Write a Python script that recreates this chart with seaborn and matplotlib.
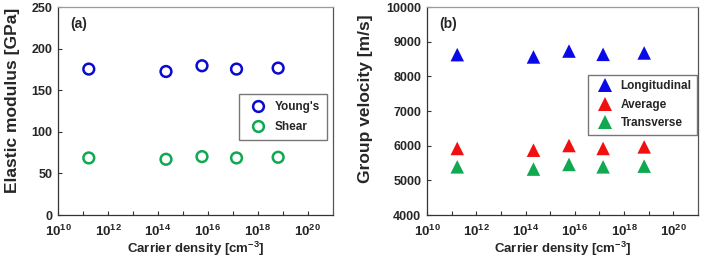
import numpy as np
import pandas as pd
import matplotlib
matplotlib.use("Agg")
import matplotlib.pyplot as plt
import matplotlib.ticker as mticker
import seaborn as sns

# carrier densities (cm^-3)
carrier = [1.7e11, 2.1e14, 5.8e15, 1.4e17, 6.5e18]

# panel (a): elastic modulus [GPa]
youngs = [175.4, 172.5, 179.4, 175.4, 176.6]
shear = [68.6, 67.0, 70.2, 68.6, 69.4]

# panel (b): group velocity [m/s]
longitudinal = [8626, 8560, 8730, 8635, 8675]
average = [5920, 5870, 6005, 5920, 5965]
transverse = [5390, 5325, 5460, 5390, 5410]

sns.set_style("ticks")
plt.rcParams['font.family'] = ['Liberation Sans', 'DejaVu Sans']
plt.rcParams['font.weight'] = 'bold'
plt.rcParams['mathtext.fontset'] = 'custom'
plt.rcParams['mathtext.rm'] = 'Liberation Sans:bold'
plt.rcParams['mathtext.it'] = 'Liberation Sans:bold'
plt.rcParams['mathtext.bf'] = 'Liberation Sans:bold'

df_a = pd.DataFrame({
    'density': carrier * 2,
    'value': youngs + shear,
    'kind': ["Young's"] * 5 + ['Shear'] * 5,
})
df_b = pd.DataFrame({
    'density': carrier * 3,
    'value': longitudinal + average + transverse,
    'kind': ['Longitudinal'] * 5 + ['Average'] * 5 + ['Transverse'] * 5,
})

fig = plt.figure(figsize=(7.08, 2.6), dpi=100)
ax1 = fig.add_axes([0.082, 0.173, 0.388, 0.80])
ax2 = fig.add_axes([0.603, 0.173, 0.383, 0.80])

blue = '#0a0ad0'
green = '#10a850'
red = '#f01010'

# (a) open circles
sns.scatterplot(data=df_a, x='density', y='value', hue='kind',
                palette={"Young's": blue, 'Shear': green},
                marker='o', s=60, linewidth=1.8, ax=ax1)
for c in ax1.collections:
    fcs = c.get_facecolors()
    c.set_edgecolors(fcs)
    c.set_facecolor('none')

# (b) filled triangles
sns.scatterplot(data=df_b, x='density', y='value', hue='kind',
                palette={'Longitudinal': '#0a0ae8', 'Average': red, 'Transverse': green},
                marker='^', s=95, linewidth=0, ax=ax2)


def fmt(v, pos):
    e = int(round(np.log10(v)))
    return r'$10^{%d}$' % e


for ax in (ax1, ax2):
    ax.set_xscale('log')
    ax.set_xlim(1e10, 1e21)
    ax.xaxis.set_major_locator(mticker.FixedLocator([10.0 ** k for k in range(10, 22, 2)]))
    ax.xaxis.set_major_formatter(mticker.FuncFormatter(fmt))
    ax.xaxis.set_minor_locator(mticker.FixedLocator([10.0 ** k for k in range(11, 21, 2)]))
    ax.xaxis.set_minor_formatter(mticker.NullFormatter())
    ax.tick_params(axis='both', which='both', direction='in', length=3, width=0.8,
                   color='#333333', labelsize=9, pad=4)
    ax.tick_params(axis='x', which='major', labelsize=9.5, pad=6)
    for s in ax.spines.values():
        s.set_color('#333333')
        s.set_linewidth(0.9)
    ax.spines['top'].set_color('#999999')
    ax.spines['right'].set_color('#555555')
    ax.set_xlabel(r'Carrier density [cm$^{-3}$]', fontsize=9.5, fontweight='bold', labelpad=1)
    for lab in ax.get_yticklabels():
        lab.set_fontweight('bold')

ax1.set_ylim(0, 250)
ax1.set_yticks(range(0, 251, 50))
ax1.set_ylabel('Elastic modulus [GPa]', fontsize=12.5, fontweight='bold')
ax1.yaxis.set_label_coords(-0.14, 0.55)
ax1.text(0.045, 0.9, '(a)', transform=ax1.transAxes, fontsize=10, fontweight='bold')

ax2.set_ylim(4000, 10000)
ax2.set_yticks(range(4000, 10001, 1000))
ax2.set_ylabel('Group velocity [m/s]', fontsize=12.5, fontweight='bold')
ax2.yaxis.set_label_coords(-0.2, 0.56)
ax2.text(0.045, 0.9, '(b)', transform=ax2.transAxes, fontsize=10, fontweight='bold')

leg1 = ax1.legend(title=None, loc='upper right', bbox_to_anchor=(0.978, 0.582),
                  borderaxespad=0, fancybox=False, framealpha=1, edgecolor='#777777',
                  fontsize=8.5, handletextpad=0.4, borderpad=0.6, labelspacing=0.7)
for h, col in zip(leg1.legend_handles, [blue, green]):
    h.set_markerfacecolor('none')
    h.set_markeredgecolor(col)
    h.set_markeredgewidth(1.8)

ax2.legend(title=None, loc='upper right', bbox_to_anchor=(0.996, 0.673),
           borderaxespad=0, fancybox=False, framealpha=1, edgecolor='#777777',
           fontsize=8.5, handletextpad=0.3, borderpad=0.45, labelspacing=0.55)

fig.savefig('out.png', dpi=100)
